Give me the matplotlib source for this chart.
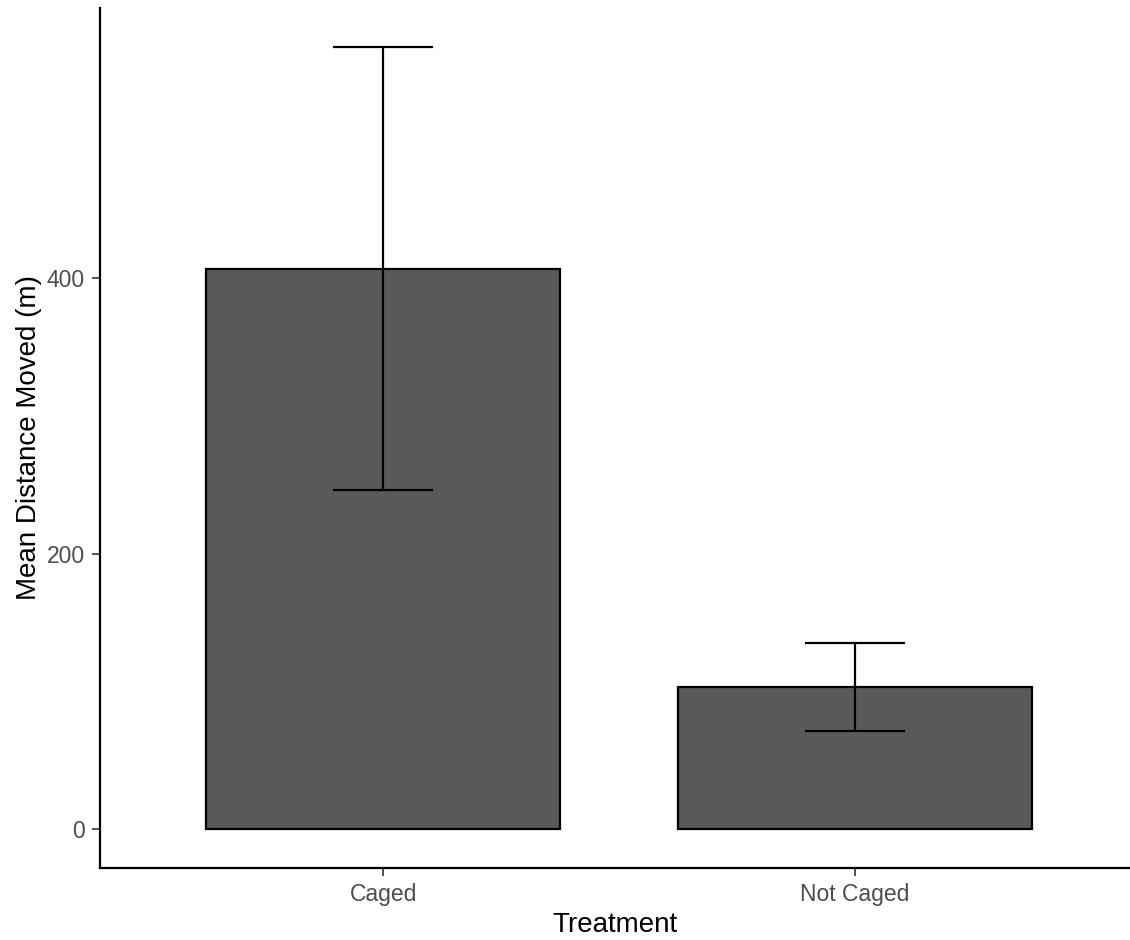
import matplotlib
matplotlib.use("Agg")
import matplotlib.pyplot as plt
import numpy as np

# data
treatments = ["Caged", "Not Caged"]
mean_dist = [407, 103]
se_dist = [161, 32]
y_ticks = [0, 200, 400]

plt.rcParams['font.family'] = ['Liberation Sans', 'DejaVu Sans']

fig = plt.figure(figsize=(11.3, 9.4), dpi=100)
ax = fig.add_axes([100 / 1130, 72 / 940, 1030 / 1130, 860 / 940])

x = np.arange(1, len(treatments) + 1)
ax.bar(x, mean_dist, width=0.75, color='#595959', edgecolor='black', linewidth=1.6, zorder=2)
ax.errorbar(x, mean_dist, yerr=se_dist, fmt='none', ecolor='black', elinewidth=1.6,
            capsize=36, capthick=1.6, zorder=3)

top = max(m + s for m, s in zip(mean_dist, se_dist))
ax.set_xlim(0.4, 2.583)
ax.set_ylim(-0.05 * top, 1.05 * top)

ax.set_xticks(x)
ax.set_xticklabels(treatments)
ax.set_yticks(y_ticks)
ax.tick_params(axis='both', labelsize=16.5, labelcolor='#4D4D4D', color='#333333',
               length=6, width=1.2, pad=5)

for side in ['top', 'right']:
    ax.spines[side].set_visible(False)
for side in ['left', 'bottom']:
    ax.spines[side].set_linewidth(1.6)
    ax.spines[side].set_color('black')

ax.set_xlabel("Treatment", fontsize=20, labelpad=4)
ax.set_ylabel("Mean Distance Moved (m)", fontsize=20, labelpad=3)

fig.savefig("out.png", dpi=100)
